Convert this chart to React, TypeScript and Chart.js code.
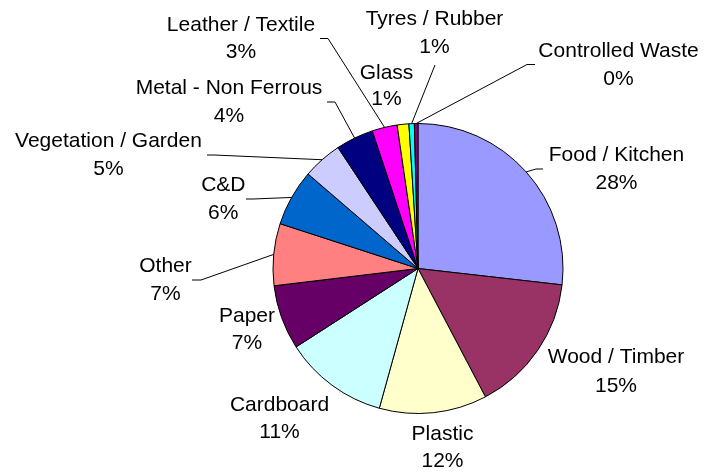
import React, { useEffect, useRef } from "react";
import { Chart, registerables } from "chart.js";

Chart.register(...registerables);

const categories = [
  "Food / Kitchen",
  "Wood / Timber",
  "Plastic",
  "Cardboard",
  "Paper",
  "Other",
  "C&D",
  "Vegetation / Garden",
  "Metal - Non Ferrous",
  "Leather / Textile",
  "Glass",
  "Tyres / Rubber",
  "Controlled Waste",
];

const shares = [26.8, 15.5, 12.0, 11.6, 7.2, 6.9, 6.3, 4.4, 4.2, 2.8, 1.3, 0.6, 0.4];

const percentLabels = ["28%", "15%", "12%", "11%", "7%", "7%", "6%", "5%", "4%", "3%", "1%", "1%", "0%"];

const colors = [
  "#9999FF",
  "#993366",
  "#FFFFCC",
  "#CCFFFF",
  "#660066",
  "#FF8080",
  "#0066CC",
  "#CCCCFF",
  "#000080",
  "#FF00FF",
  "#FFFF00",
  "#00FFFF",
  "#800080",
];

// label layout: centre x, baseline of line 1, baseline of line 2, optional leader (start x/y, kink x)
type Leader = { sx: number; sy: number; kx: number } | null;
const labelLayout: { x: number; y1: number; y2: number; leader: Leader }[] = [
  { x: 616.5, y1: 160.7, y2: 189.3, leader: { sx: 543, sy: 169, kx: 536 } },
  { x: 616, y1: 363.3, y2: 392.3, leader: null },
  { x: 442.5, y1: 440, y2: 467.3, leader: null },
  { x: 279.5, y1: 410.7, y2: 438.3, leader: null },
  { x: 247, y1: 321.7, y2: 349, leader: null },
  { x: 165.5, y1: 271.7, y2: 300, leader: { sx: 192, sy: 280, kx: 201 } },
  { x: 223.3, y1: 190.7, y2: 219, leader: { sx: 246, sy: 199, kx: 253 } },
  { x: 108.5, y1: 147.3, y2: 175, leader: { sx: 207, sy: 155, kx: 214 } },
  { x: 229, y1: 94, y2: 121.7, leader: { sx: 327, sy: 102, kx: 335 } },
  { x: 241, y1: 30.7, y2: 58.3, leader: { sx: 320, sy: 38.5, kx: 328 } },
  { x: 386.5, y1: 79, y2: 105, leader: null },
  { x: 434.5, y1: 25, y2: 53.3, leader: { sx: 435, sy: 65, kx: 435 } },
  { x: 618.5, y1: 56.7, y2: 85, leader: { sx: 535, sy: 64.5, kx: 527 } },
];

const FONT = '21px "Liberation Sans", Arial, sans-serif';

const labelPlugin = {
  id: "excelLabels",
  afterDatasetsDraw(chart: any) {
    const ctx: CanvasRenderingContext2D = chart.ctx;
    const meta = chart.getDatasetMeta(0);
    ctx.save();
    // leader lines
    ctx.strokeStyle = "#000000";
    ctx.lineWidth = 1;
    meta.data.forEach((arc: any, i: number) => {
      const lay = labelLayout[i];
      if (!lay || !lay.leader) return;
      const { x, y, startAngle, endAngle, outerRadius } = arc.getProps(
        ["x", "y", "startAngle", "endAngle", "outerRadius"],
        true
      );
      const mid = (startAngle + endAngle) / 2;
      const ex = x + Math.cos(mid) * outerRadius;
      const ey = y + Math.sin(mid) * outerRadius;
      ctx.beginPath();
      ctx.moveTo(lay.leader.sx, lay.leader.sy);
      ctx.lineTo(lay.leader.kx, lay.leader.sy);
      ctx.lineTo(ex, ey);
      ctx.stroke();
    });
    // texts
    ctx.fillStyle = "#000000";
    ctx.font = FONT;
    ctx.textAlign = "center";
    ctx.textBaseline = "alphabetic";
    categories.forEach((name, i) => {
      const lay = labelLayout[i];
      ctx.fillText(name, lay.x, lay.y1);
      ctx.fillText(percentLabels[i], lay.x, lay.y2);
    });
    ctx.restore();
  },
};

export default function App() {
  const ref = useRef<HTMLCanvasElement | null>(null);
  useEffect(() => {
    if (!ref.current) return;
    const chart = new Chart(ref.current, {
      type: "pie",
      data: {
        labels: categories,
        datasets: [
          {
            data: shares,
            backgroundColor: colors,
            borderColor: "#000000",
            borderWidth: 1,
            radius: 145,
          } as any,
        ],
      },
      options: {
        responsive: false,
        animation: false,
        layout: { padding: { left: 273, right: 141, top: 123.5, bottom: 58.5 } },
        plugins: {
          legend: { display: false },
          tooltip: { enabled: false },
        },
        events: [],
      },
      plugins: [labelPlugin],
    });
    return () => chart.destroy();
  }, []);
  return (
    <div style={{ position: "absolute", left: 0, top: 0, width: 704, height: 472, background: "#ffffff" }}>
      <canvas ref={ref} width={704} height={472} style={{ width: 704, height: 472, display: "block" }} />
    </div>
  );
}
